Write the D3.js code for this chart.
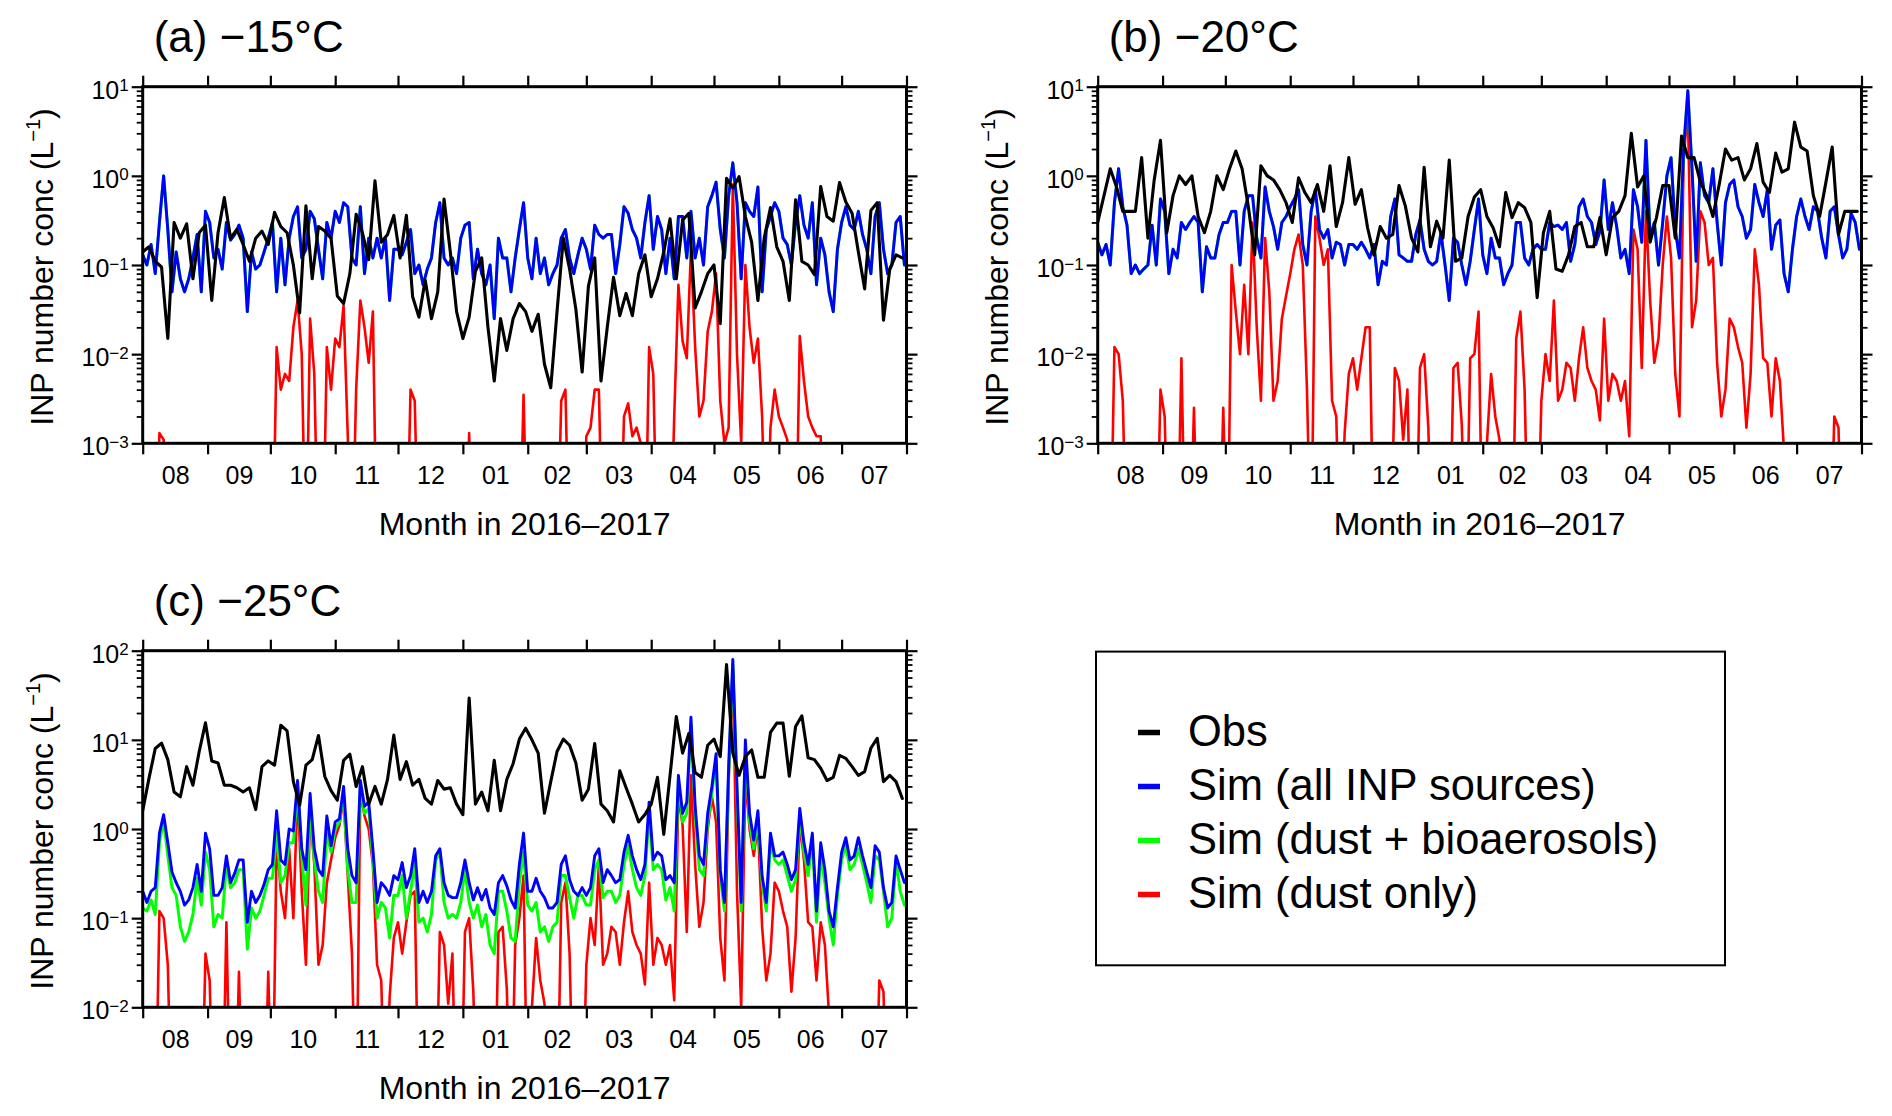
<!DOCTYPE html>
<html><head><meta charset="utf-8">
<script src="https://cdn.jsdelivr.net/npm/d3@7"></script>
<style>
body{margin:0;background:#fff}
text{font-family:"Liberation Sans",Arial,Helvetica,sans-serif;fill:#000}
</style>
</head><body>
<svg id="chart" width="1892" height="1116"></svg>
<script>
// ---------------- DATA ----------------
const monthLabels = ["08","09","10","11","12","01","02","03","04","05","06","07"];
const panelTitles = ["(a) \u221215\u00b0C","(b) \u221220\u00b0C","(c) \u221225\u00b0C"];
const legendLabels = ["Obs","Sim (all INP sources)","Sim (dust + bioaerosols)","Sim (dust only)"];
const xTitle = "Month in 2016\u20132017";
const startDay = "2016-08-01", endDay = "2017-08-01";
const simStepDays = 2;   // simulated series: one value every 2 days from 1 Aug 2016
const obsStepDays = 3;   // observations: one value every 3 days from 1 Aug 2016

// (a) -15 C
const obsA = [0.14,0.16,0.11,0.095,0.015,0.3,0.2,0.29,0.07,0.23,
0.28,0.04,0.23,0.57,0.2,0.25,0.17,0.11,0.2,0.24,
0.17,0.39,0.27,0.23,0.1,0.029,0.46,0.07,0.27,0.24,
0.2,0.045,0.037,0.08,0.37,0.23,0.115,0.88,0.18,0.22,
0.36,0.12,0.36,0.044,0.026,0.068,0.025,0.05,0.55,0.14,
0.03,0.015,0.026,0.085,0.12,0.02,0.005,0.025,0.011,0.025,
0.037,0.03,0.018,0.028,0.0077,0.0042,0.03,0.2,0.09,0.032,
0.0063,0.058,0.12,0.005,0.02,0.073,0.027,0.048,0.027,0.08,
0.13,0.044,0.07,0.14,0.33,0.07,0.32,0.38,0.033,0.05,
0.08,0.1,0.022,0.94,0.73,0.98,0.35,0.18,0.04,0.2,
0.44,0.16,0.11,0.04,0.54,0.11,0.1,0.078,0.76,0.35,
0.31,0.84,0.51,0.38,0.14,0.054,0.41,0.5,0.024,0.09,
0.13,0.12];
const simAllA = [0.13,0.1,0.17,0.08,0.3,1.0,0.25,0.05,0.14,0.07,
0.05,0.07,0.12,0.22,0.05,0.4,0.3,0.12,0.15,0.09,
0.3,0.19,0.22,0.28,0.2,0.03,0.14,0.09,0.1,0.14,
0.2,0.3,0.05,0.2,0.06,0.2,0.35,0.45,0.12,0.15,
0.4,0.33,0.15,0.07,0.3,0.2,0.4,0.3,0.5,0.45,
0.12,0.1,0.45,0.08,0.2,0.12,0.2,0.12,0.2,0.04,
0.15,0.15,0.13,0.18,0.25,0.08,0.1,0.06,0.09,0.12,
0.3,0.5,0.12,0.1,0.12,0.08,0.2,0.28,0.3,0.07,
0.15,0.08,0.06,0.1,0.025,0.2,0.12,0.12,0.05,0.12,
0.25,0.5,0.12,0.07,0.2,0.08,0.12,0.06,0.08,0.1,
0.2,0.25,0.12,0.08,0.13,0.2,0.15,0.09,0.28,0.22,
0.2,0.22,0.22,0.08,0.17,0.45,0.38,0.25,0.2,0.12,
0.3,0.6,0.15,0.35,0.25,0.08,0.2,0.07,0.35,0.35,
0.12,0.4,0.12,0.2,0.1,0.45,0.6,0.85,0.25,0.12,
0.6,1.4,0.5,0.07,0.5,0.4,0.35,0.75,0.05,0.25,
0.35,0.5,0.4,0.2,0.17,0.1,0.3,0.6,0.28,0.2,
0.5,0.06,0.2,0.13,0.05,0.03,0.15,0.3,0.45,0.28,
0.25,0.4,0.22,0.15,0.08,0.35,0.5,0.15,0.08,0.1,
0.3,0.35,0.1];
// dust + bioaerosols is indistinguishable from all sources at -15 C (hidden under the blue curve)
const simBioA = simAllA;
const simDustA = [0,0,0,0,0.0013,0.0011,0,0,0,0,
0,0,0,0,0,0,0,0,0,0,
0,0,0,0,0,0,0,0,0,0,
0,0,0.012,0.004,0.006,0.005,0.02,0.04,0.01,0,
0.025,0.006,0,0,0.012,0.004,0.015,0.012,0.035,0.0012,
0,0.004,0.04,0.02,0.008,0.03,0,0,0,0,
0,0,0,0,0.004,0.003,0,0,0,0,
0,0,0,0,0,0,0,0,0.0013,0,
0,0,0,0,0,0,0,0,0,0,
0,0.0035,0,0,0,0,0,0,0,0,
0.003,0.004,0,0,0,0,0.0012,0.0015,0.004,0.004,
0,0,0,0,0,0.002,0.0028,0.0012,0.0015,0.001,
0,0.012,0.006,0,0,0,0,0.002,0.06,0.014,
0.009,0.15,0.012,0.002,0.003,0.018,0.03,0.08,0.003,0.001,
0.0015,0.8,0.01,0.001,0.1,0.02,0.008,0.015,0.002,0,
0.0015,0.004,0.002,0.0015,0.0011,0,0,0.016,0.005,0.002,
0.0015,0.0012,0.0012,0,0,0,0,0,0,0,
0,0,0,0,0,0,0,0,0,0,
0,0,0];

// (b) -20 C
const obsB = [0.3,0.6,1.2,0.75,0.4,0.4,0.4,1.6,0.2,0.9,
2.5,0.23,0.6,1.0,0.8,1.0,0.35,0.23,0.4,1.0,
0.7,1.2,1.9,1.2,0.45,0.13,1.3,1.0,0.9,0.7,
0.5,0.3,0.95,0.65,0.5,0.8,0.4,1.3,0.27,0.5,
1.6,0.48,0.7,0.26,0.13,0.27,0.2,0.22,0.78,0.46,
0.2,0.14,1.25,0.16,0.31,0.2,1.5,0.11,0.12,0.35,
0.58,0.7,0.35,0.26,0.16,0.65,0.34,0.5,0.44,0.3,
0.043,0.23,0.4,0.09,0.085,0.13,0.27,0.3,0.16,0.16,
0.34,0.13,0.34,0.4,0.6,3.0,0.75,1.0,0.18,0.34,
0.78,0.78,0.2,2.8,1.6,1.6,0.85,0.6,0.35,0.8,
2.0,1.5,1.6,0.9,1.2,2.3,0.85,0.65,1.8,1.1,
1.2,4.0,2.1,1.9,0.6,0.35,0.85,2.1,0.22,0.4,
0.4,0.4];
const simAllB = [0.18,0.13,0.17,0.1,0.5,1.2,0.45,0.28,0.08,0.1,
0.08,0.09,0.1,0.28,0.1,0.55,0.4,0.08,0.15,0.12,
0.3,0.25,0.3,0.35,0.3,0.05,0.16,0.12,0.12,0.22,
0.3,0.3,0.4,0.4,0.1,0.4,0.6,0.6,0.2,0.12,
0.75,0.4,0.27,0.15,0.3,0.35,0.45,0.55,0.7,0.17,
0.1,0.4,0.7,0.25,0.2,0.25,0.12,0.18,0.17,0.1,
0.17,0.17,0.15,0.18,0.15,0.12,0.17,0.06,0.11,0.1,
0.35,0.55,0.13,0.12,0.11,0.11,0.22,0.32,0.15,0.11,
0.1,0.11,0.23,0.1,0.04,0.2,0.18,0.1,0.06,0.11,
0.25,0.55,0.13,0.08,0.2,0.12,0.12,0.06,0.08,0.1,
0.3,0.3,0.12,0.1,0.15,0.17,0.15,0.15,0.3,0.27,
0.28,0.25,0.3,0.11,0.17,0.45,0.55,0.35,0.3,0.17,
0.24,0.9,0.25,0.5,0.27,0.12,0.15,0.08,0.7,0.45,
0.18,2.5,0.2,0.3,0.1,0.3,1.0,1.6,0.25,0.12,
2.0,9.0,1.2,0.11,1.4,0.6,0.5,1.2,0.3,0.1,
0.5,0.8,0.9,0.45,0.35,0.2,0.25,0.8,0.5,0.35,
0.7,0.15,0.28,0.32,0.08,0.05,0.15,0.35,0.55,0.35,
0.25,0.45,0.4,0.2,0.12,0.4,0.45,0.22,0.12,0.15,
0.38,0.3,0.15];
// dust + bioaerosols nearly coincides with all sources at -20 C
const simBioB = simAllB;
const simDustB = [0,0,0,0,0.012,0.01,0.003,0,0,0,
0,0,0,0,0,0.004,0.002,0,0,0,
0.009,0,0,0.0025,0,0,0,0,0,0,
0.0025,0,0.1,0.03,0.01,0.06,0.01,0.3,0.02,0.003,
0.2,0.05,0.003,0.005,0.025,0.045,0.08,0.15,0.22,0.1,
0.004,0,0.35,0.2,0.1,0.15,0.003,0.002,0,0.0013,
0.006,0.009,0.004,0.009,0.02,0.02,0,0,0,0,
0,0.007,0.005,0.0011,0.004,0,0,0.007,0.01,0.0015,
0,0,0,0,0,0.007,0.008,0.0016,0,0.009,
0.01,0.03,0,0.001,0.006,0.002,0.0011,0,0,0,
0.015,0.03,0.004,0,0,0,0.003,0.01,0.005,0.04,
0.003,0.004,0.008,0.007,0.003,0.009,0.02,0.007,0.005,0.004,
0.0018,0.025,0.003,0.006,0.005,0.003,0.005,0.0012,0.25,0.15,
0.007,0.4,0.04,0.008,0.015,0.1,0.35,0.12,0.006,0.002,
1.5,6.0,0.02,0.04,0.4,0.3,0.1,0.12,0.008,0.002,
0.004,0.025,0.02,0.012,0.008,0.0015,0.006,0.15,0.06,0.009,
0.008,0.002,0.009,0.005,0.0008,0,0,0,0,0,
0,0,0,0,0,0,0.002,0.0015,0,0,
0,0,0];

// (c) -25 C
const obsC = [1.6,3.7,8.0,9.2,6.0,2.6,2.3,5.0,3.1,7.4,
15.5,5.8,5.5,3.1,3.1,2.9,2.6,2.9,1.65,5.0,
5.8,5.2,14.6,12.6,3.4,1.85,5.2,6.0,11.2,3.9,
2.7,2.1,5.9,6.9,3.0,5.0,1.9,3.0,1.9,3.6,
11.3,3.6,5.7,3.1,3.6,2.2,1.9,3.5,2.8,2.9,
1.9,1.45,29.5,1.9,2.6,1.6,5.9,1.6,3.6,5.4,
10.2,13.5,10,7.1,1.5,3.4,7.4,10.2,8.7,5.5,
2.1,2.8,9.1,1.9,1.6,1.2,4.5,2.9,1.9,1.2,
1.45,1.9,3.8,0.87,4.0,18.3,7.1,11.8,4.3,3.8,
8.7,10.2,6.5,70,7.1,4.0,6.5,7.7,3.8,3.8,
12.1,15.4,15.4,3.9,14.1,18.6,6.3,6.0,4.8,3.5,
3.8,6.7,6.2,5.0,4.0,4.4,8.1,10.4,3.4,4.0,
3.4,2.2];
const simAllC = [0.2,0.15,0.2,0.22,0.9,1.45,0.7,0.33,0.25,0.2,
0.14,0.16,0.22,0.4,0.2,0.9,0.6,0.18,0.18,0.22,
0.5,0.25,0.32,0.45,0.45,0.09,0.2,0.15,0.18,0.24,
0.35,0.4,1.6,0.45,0.4,1.0,0.95,3.5,0.6,0.35,
2.5,0.6,0.35,0.3,1.4,0.65,1.2,1.3,3.0,0.6,
0.3,0.25,3.5,1.8,2.0,0.6,0.15,0.25,0.22,0.18,
0.3,0.27,0.42,0.22,0.3,0.6,0.15,0.2,0.15,0.2,
0.5,0.6,0.25,0.18,0.17,0.17,0.25,0.45,0.25,0.16,
0.22,0.16,0.21,0.13,0.11,0.25,0.3,0.23,0.16,0.13,
0.4,0.9,0.2,0.2,0.28,0.2,0.17,0.13,0.13,0.15,
0.4,0.5,0.27,0.2,0.18,0.22,0.18,0.22,0.5,0.6,
0.25,0.35,0.3,0.25,0.27,0.55,0.85,0.5,0.35,0.27,
0.4,2.0,0.45,0.55,0.5,0.27,0.3,0.25,4.0,1.5,
2.0,18,1.8,0.5,0.4,1.5,3.0,7.0,0.35,0.15,
5,80,3.0,0.15,10,1.5,0.75,1.6,0.3,0.15,
0.9,0.5,0.5,0.55,0.4,0.27,0.35,1.7,0.7,0.4,
0.9,0.12,0.7,0.35,0.12,0.08,0.22,0.55,0.8,0.45,
0.5,0.8,0.5,0.33,0.22,0.65,0.55,0.22,0.13,0.15,
0.5,0.35,0.25];
const simBioC = [0.13,0.12,0.16,0.11,0.7,1.25,0.5,0.22,0.18,0.08,
0.055,0.07,0.11,0.28,0.14,0.55,0.35,0.08,0.11,0.1,
0.4,0.22,0.25,0.35,0.35,0.045,0.13,0.1,0.12,0.18,
0.28,0.28,0.9,0.25,0.3,0.7,0.7,3.0,0.5,0.14,
1.6,0.45,0.2,0.15,0.9,0.55,1.0,1.2,2.5,0.35,
0.15,0.15,3.0,1.5,1.7,0.45,0.1,0.15,0.13,0.06,
0.18,0.18,0.3,0.1,0.2,0.4,0.09,0.1,0.07,0.11,
0.45,0.55,0.15,0.1,0.11,0.1,0.15,0.35,0.15,0.1,
0.14,0.08,0.11,0.05,0.04,0.2,0.2,0.12,0.06,0.055,
0.25,0.55,0.14,0.12,0.15,0.07,0.08,0.055,0.08,0.09,
0.3,0.3,0.17,0.1,0.18,0.18,0.14,0.14,0.35,0.45,
0.17,0.2,0.2,0.15,0.18,0.4,0.65,0.35,0.22,0.18,
0.3,1.5,0.35,0.4,0.35,0.16,0.22,0.12,3.5,1.2,
1.5,15,1.5,0.35,0.3,1.2,2.5,6,0.3,0.12,
4,70,2.5,0.12,8,1.2,0.6,1.3,0.25,0.12,
0.7,0.45,0.4,0.45,0.3,0.2,0.27,1.4,0.55,0.3,
0.75,0.09,0.5,0.25,0.1,0.05,0.18,0.45,0.65,0.35,
0.4,0.6,0.4,0.25,0.15,0.5,0.45,0.2,0.08,0.1,
0.45,0.2,0.14];
const simDustC = [0,0,0,0,0.12,0.1,0.03,0,0,0,
0,0,0,0,0,0.04,0.02,0,0,0,
0.09,0,0,0.025,0,0,0,0,0,0,
0.025,0,0.8,0.2,0.1,0.6,0.1,2.8,0.2,0.03,
1.5,0.4,0.03,0.05,0.25,0.45,0.8,1.1,2.2,0.3,
0.04,0,2.8,1.4,1.0,0.4,0.03,0.02,0,0.013,
0.06,0.09,0.04,0.09,0.18,0.2,0,0,0,0,
0,0.07,0.05,0.011,0.04,0,0,0.07,0.1,0.015,
0,0,0,0,0,0.07,0.08,0.016,0,0.05,
0.1,0.3,0,0.01,0.06,0.02,0.011,0,0,0,
0.15,0.25,0.04,0,0,0,0.03,0.1,0.05,0.4,
0.03,0.04,0.08,0.07,0.03,0.09,0.2,0.07,0.05,0.04,
0.018,0.25,0.03,0.06,0.05,0.03,0.05,0.012,2.5,1.1,
0.07,4,0.4,0.08,0.15,1.0,2.3,1.2,0.06,0.02,
3.5,60,0.2,0.01,4,1.0,0.5,1.1,0.08,0.02,
0.04,0.25,0.2,0.12,0.08,0.015,0.06,1.2,0.45,0.09,
0.08,0.02,0.09,0.05,0.008,0,0,0,0,0,
0,0,0,0,0,0,0.02,0.015,0,0,
0,0,0];

const seriesColors = ["#000000","#0000ff","#00ff00","#ff0000"];

// ---------------- DRAWING ----------------
const svg = d3.select("#chart");
svg.append("rect").attr("width",1892).attr("height",1116).attr("fill","#fff");
const t0 = new Date(startDay+"T00:00:00Z"), t1 = new Date(endDay+"T00:00:00Z");
const dayAt = (n) => d3.utcDay.offset(t0, n);

const PW = 763.8, PH = 356.6;
const panels = [
  {left:142.7, top:86.7, yMin:1e-3, yMax:1e1, obs:obsA, all:simAllA, bio:simBioA, dust:simDustA},
  {left:1097.7, top:86.7, yMin:1e-3, yMax:1e1, obs:obsB, all:simAllB, bio:simBioB, dust:simDustB},
  {left:142.7, top:650.7, yMin:1e-2, yMax:1e2, obs:obsC, all:simAllC, bio:simBioC, dust:simDustC}
];

const defs = svg.append("defs");

panels.forEach((p, pi) => {
  const g = svg.append("g");
  const x = d3.scaleUtc().domain([t0, t1]).range([p.left, p.left + PW]);
  const y = d3.scaleLog().domain([p.yMin, p.yMax]).range([p.top + PH, p.top]);
  const floorV = p.yMin / 30;

  defs.append("clipPath").attr("id", "clip" + pi)
    .append("rect").attr("x", p.left).attr("y", p.top).attr("width", PW).attr("height", PH);

  const mkLine = (step) => d3.line()
    .x((d, i) => x(dayAt(i * step)))
    .y(d => y(Math.max(d, floorV)));

  const plot = g.append("g").attr("clip-path", `url(#clip${pi})`);
  const layers = [
    {data:p.dust, color:seriesColors[3], w:2.6, step:simStepDays},
    {data:p.bio,  color:seriesColors[2], w:3.0, step:simStepDays},
    {data:p.all,  color:seriesColors[1], w:2.9, step:simStepDays},
    {data:p.obs,  color:seriesColors[0], w:3.1, step:obsStepDays}
  ];
  layers.forEach(L => {
    plot.append("path").attr("d", mkLine(L.step)(L.data))
      .attr("fill","none").attr("stroke",L.color).attr("stroke-width",L.w)
      .attr("stroke-linejoin","round").attr("stroke-linecap","round");
  });

  // x ticks (month starts), outward on bottom and top
  const months = d3.utcMonth.range(t0, d3.utcDay.offset(t1, 1));
  const styleAxis = (sel, sw) => {
    sel.select(".domain").remove();
    sel.selectAll(".tick line").attr("stroke","#000").attr("stroke-width", sw);
  };
  g.append("g").attr("transform",`translate(0,${p.top+PH})`)
    .call(d3.axisBottom(x).tickValues(months).tickSize(11).tickFormat(""))
    .call(s => styleAxis(s, 2.2));
  g.append("g").attr("transform",`translate(0,${p.top})`)
    .call(d3.axisTop(x).tickValues(months).tickSize(11).tickFormat(""))
    .call(s => styleAxis(s, 2.2));
  const mids = months.slice(0, -1).map((m, i) => new Date((m.getTime() + months[i+1].getTime()) / 2));
  g.append("g").attr("transform",`translate(0,${p.top+PH})`)
    .call(d3.axisBottom(x).tickValues(mids).tickSize(0).tickPadding(23).tickFormat((d, i) => monthLabels[i]))
    .call(s => { s.select(".domain").remove(); s.attr("font-size", null).attr("font-family", null);
      s.selectAll("text").style("font-size", "25px"); });

  // y ticks: major decades + minor
  const e0 = Math.round(Math.log10(p.yMin)), e1 = Math.round(Math.log10(p.yMax));
  const exps = d3.range(e0, e1 + 1);
  const majors = exps.map(e => Math.pow(10, e));
  const minors = [];
  exps.slice(0, -1).forEach(e => { for (let k = 2; k < 10; k++) minors.push(k * Math.pow(10, e)); });
  [[d3.axisLeft, p.left], [d3.axisRight, p.left + PW]].forEach(([ax, xx]) => {
    g.append("g").attr("transform",`translate(${xx},0)`)
      .call(ax(y).tickValues(majors).tickSize(11).tickFormat(""))
      .call(s => styleAxis(s, 2.2));
    g.append("g").attr("transform",`translate(${xx},0)`)
      .call(ax(y).tickValues(minors).tickSize(6).tickFormat(""))
      .call(s => styleAxis(s, 1.8));
  });
  // y tick labels 10^e
  exps.forEach(e => {
    const yy = y(Math.pow(10, e));
    const t = g.append("text").attr("x", p.left - 14).attr("y", yy + 12)
      .attr("text-anchor","end").style("font-size","25px");
    t.append("tspan").style("font-size","25px").text("10");
    t.append("tspan").style("font-size","17px").attr("dy", -7.5)
      .text(e < 0 ? "\u2212" + Math.abs(e) : String(e));
  });

  // frame
  g.append("rect").attr("x", p.left).attr("y", p.top).attr("width", PW).attr("height", PH)
    .attr("fill","none").attr("stroke","#000").attr("stroke-width", 3);

  // titles
  g.append("text").attr("x", p.left + 11).attr("y", p.top - 35)
    .style("font-size","44px").text(panelTitles[pi]);
  g.append("text").attr("x", p.left + PW / 2).attr("y", p.top + PH + 92)
    .attr("text-anchor","middle").style("font-size","32px").text(xTitle);
  const yt = g.append("text")
    .attr("transform",`translate(${p.left - 89.7},${p.top + PH / 2 + 2}) rotate(-90)`)
    .attr("text-anchor","middle").style("font-size","32px");
  yt.append("tspan").text("INP number conc (L");
  yt.append("tspan").style("font-size","20px").attr("dy", -13).text("\u22121");
  yt.append("tspan").attr("dy", 13).text(")");
});

// legend
const lg = svg.append("g");
lg.append("rect").attr("x", 1096).attr("y", 651.6).attr("width", 629).attr("height", 313.7)
  .attr("fill","#fff").attr("stroke","#000").attr("stroke-width", 2);
legendLabels.forEach((lab, i) => {
  const base = 746 + i * 54;
  lg.append("line").attr("x1", 1138).attr("x2", 1160).attr("y1", base - 13.5).attr("y2", base - 13.5)
    .attr("stroke", seriesColors[i]).attr("stroke-width", 5.5);
  lg.append("text").attr("x", 1188).attr("y", base).style("font-size","43.5px").text(lab);
});
</script>
</body></html>
